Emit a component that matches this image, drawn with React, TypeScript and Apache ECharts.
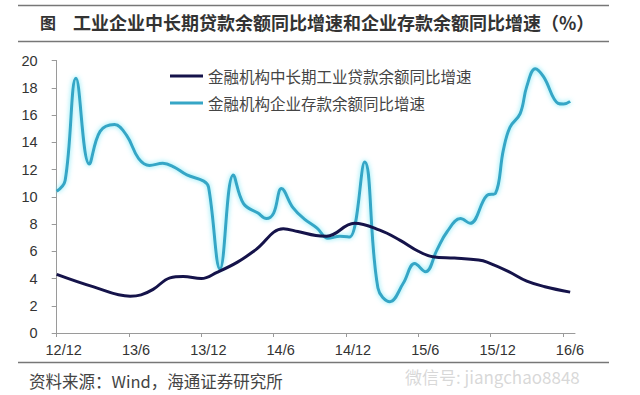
import React, { useEffect, useRef } from "react";
import * as echarts from "echarts";

// x values are months counted from 2012-12 (0 = 12/12)
const tickLabels = ["12/12", "13/6", "13/12", "14/6", "14/12", "15/6", "15/12", "16/6"];
const seriesNames = ["金融机构中长期工业贷款余额同比增速", "金融机构企业存款余额同比增速"];

const loanMonths = [0, 3, 6.1, 7, 8, 9.4, 10.5, 12, 13.3, 15, 16.5, 18.8, 20, 21.5, 22.4, 24.7, 26.8, 28.5, 30, 31.2, 33, 35, 35.7, 37.5, 39, 40.5, 42.6];
const loanValues = [4.3, 3.4, 2.7, 2.8, 3.2, 4.05, 4.15, 4.0, 4.45, 5.2, 6.1, 7.65, 7.45, 7.15, 7.1, 8.05, 7.55, 6.8, 6.0, 5.6, 5.5, 5.35, 5.2, 4.5, 3.8, 3.4, 3.0];

const depositMonths = [0, 0.7, 1.6, 2.7, 3.6, 4.8, 5.8, 6.8, 7.7, 8.8, 9.7, 10.8, 12.2, 12.6, 13.55, 14.65, 15.5, 16.7, 17.4, 18.0, 18.65, 19.6, 20.5, 21.6, 22.5, 23.5, 24.3, 25.55, 26.65, 27.65, 28.75, 29.7, 30.6, 31.55, 32.4, 33.5, 34.3, 35.7, 36.4, 37.05, 37.6, 38.45, 39.0, 39.7, 40.4, 41.6, 42.05, 42.6];
const depositValues = [10.4, 11.2, 18.7, 12.4, 14.8, 15.3, 14.5, 12.8, 12.3, 12.45, 12.2, 11.6, 11.15, 10.7, 4.7, 11.6, 9.5, 8.8, 8.4, 8.8, 10.6, 9.2, 8.4, 7.7, 6.95, 7.1, 7.05, 12.55, 3.3, 2.3, 3.65, 5.1, 4.5, 6.1, 7.45, 8.4, 8.05, 10.1, 10.25, 13.4, 15.1, 16.1, 18.1, 19.4, 18.8, 16.85, 16.8, 17.0];

const titleLead = "图";
const titleText = "工业企业中长期贷款余额同比增速和企业存款余额同比增速（%）";
const sourceText = "资料来源：Wind，海通证券研究所";
const watermarkText = "微信号: jiangchao8848";

const latin = "'Liberation Sans', Arial, 'Noto Sans CJK SC', sans-serif";
const cjk = "'Noto Sans CJK SC', 'Liberation Sans', sans-serif";

export default function App() {
  const ref = useRef<HTMLDivElement>(null);
  useEffect(() => {
    const chart = echarts.init(ref.current!, null, { renderer: "svg" });
    const pair = (xs: number[], ys: number[]) => xs.map((x, i) => [x, ys[i]]);
    chart.setOption({
      animation: false,
      backgroundColor: "#ffffff",
      grid: { left: 56.7, right: 65, top: 60.5, bottom: 62, containLabel: false },
      legend: {
        orient: "vertical",
        left: 165,
        top: 63,
        itemWidth: 33,
        itemHeight: 3,
        itemGap: 11,
        icon: "rect",
        textStyle: { fontFamily: cjk, fontSize: 15.5, color: "#444", lineHeight: 16 },
        data: seriesNames,
      },
      xAxis: {
        type: "value",
        min: 0,
        max: 43,
        interval: 6,
        splitLine: { show: false },
        axisLine: { lineStyle: { color: "#9a9a9a", width: 1 } },
        axisTick: {
          show: true,
          length: 4,
          lineStyle: { color: "#9a9a9a" },
          customValues: tickLabels.map((_, i) => i * 6),
        },
        axisLabel: {
          fontFamily: latin,
          fontSize: 14.5,
          color: "#333",
          margin: 10,
          padding: [0, 0, 0, 14],
          customValues: tickLabels.map((_, i) => i * 6),
          formatter: (v: number) => tickLabels[Math.round(v / 6)] ?? "",
        },
      },
      yAxis: {
        type: "value",
        min: 0,
        max: 20,
        interval: 2,
        splitLine: { show: false },
        axisLine: { show: true, lineStyle: { color: "#9a9a9a", width: 1 } },
        axisTick: { show: true, length: 5, lineStyle: { color: "#9a9a9a" } },
        axisLabel: { fontFamily: latin, fontSize: 14.5, color: "#333", margin: 19 },
      },
      series: [
        {
          name: seriesNames[0],
          type: "line",
          data: pair(loanMonths, loanValues),
          smooth: 0.4,
          showSymbol: false,
          color: "#15134a",
          lineStyle: { width: 3, color: "#15134a" },
          z: 3,
        },
        {
          name: seriesNames[1],
          type: "line",
          data: pair(depositMonths, depositValues),
          smooth: 0.4,
          showSymbol: false,
          color: "#36a6c6",
          lineStyle: {
            width: 3,
            color: "#36a6c6",
            shadowColor: "rgba(110,230,245,0.95)",
            shadowBlur: 5,
          },
          z: 2,
        },
      ],
      graphic: [
        { type: "line", shape: { x1: 18, y1: 5.5, x2: 609, y2: 5.5 }, style: { stroke: "#777", lineWidth: 1.3 } },
        { type: "line", shape: { x1: 18, y1: 41.5, x2: 609, y2: 41.5 }, style: { stroke: "#777", lineWidth: 1.3 } },
        { type: "line", shape: { x1: 18, y1: 362.5, x2: 609, y2: 362.5 }, style: { stroke: "#777", lineWidth: 1.3 } },
        {
          type: "text",
          x: 40,
          y: 22,
          style: { text: titleLead, font: `bold 16px ${cjk}`, fill: "#333", verticalAlign: "middle" },
        },
        {
          type: "text",
          x: 73,
          y: 22,
          style: { text: titleText, font: `bold 18px ${cjk}`, fill: "#333", verticalAlign: "middle" },
        },
        {
          type: "text",
          x: 29,
          y: 381,
          style: { text: sourceText, font: `16.5px ${cjk}`, fill: "#444", verticalAlign: "middle" },
        },
        {
          type: "text",
          x: 405,
          y: 376,
          z: -1,
          style: { text: watermarkText, font: `17px ${cjk}`, fill: "rgba(190,190,190,0.6)", verticalAlign: "middle" },
        },
      ],
    });
    return () => chart.dispose();
  }, []);
  return <div ref={ref} style={{ position: "absolute", left: 0, top: 0, width: 640, height: 395 }} />;
}
